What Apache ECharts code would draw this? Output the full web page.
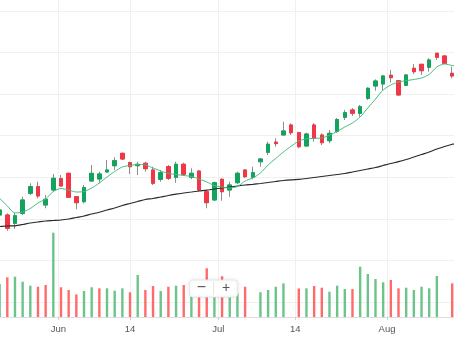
<!DOCTYPE html>
<html><head><meta charset="utf-8">
<script src="https://cdn.jsdelivr.net/npm/echarts@6/dist/echarts.min.js"></script>
<style>html,body{margin:0;padding:0;background:#fff}#c{width:454px;height:341px}</style>
</head><body><div id="c"></div>
<script>
// trading days (first and last only carry moving-average values)
const dates = [
 '2023-05-18','2023-05-19','2023-05-22','2023-05-23','2023-05-24','2023-05-25','2023-05-26','2023-05-30','2023-05-31',
 '2023-06-01','2023-06-02','2023-06-05','2023-06-06','2023-06-07','2023-06-08','2023-06-09','2023-06-12','2023-06-13','2023-06-14',
 '2023-06-15','2023-06-16','2023-06-20','2023-06-21','2023-06-22','2023-06-23','2023-06-26','2023-06-27','2023-06-28','2023-06-29','2023-06-30',
 '2023-07-03','2023-07-05','2023-07-06','2023-07-07','2023-07-10','2023-07-11','2023-07-12','2023-07-13','2023-07-14','2023-07-17',
 '2023-07-18','2023-07-19','2023-07-20','2023-07-21','2023-07-24','2023-07-25','2023-07-26','2023-07-27','2023-07-28','2023-07-31',
 '2023-08-01','2023-08-02','2023-08-03','2023-08-04','2023-08-07','2023-08-08','2023-08-09','2023-08-10','2023-08-11','2023-08-14','2023-08-15','2023-08-16'
];
const open  = [90.93,90.93,88.93,91.34,96.15,97.74,93.34,96.94,99.66,100.96,
 95.33,94.13,99.11,99.59,101.27,102.79,105.77,103.51,102.79,103.37,
 101.75,99.52,102.55,100.00,103.13,100.00,101.51,96.53,94.54,99.52,
 96.94,98.70,101.75,100.00,103.75,106.01,108.45,110.17,112.58,110.73,
 107.53,112.58,110.17,108.80,111.02,114.43,116.19,115.39,119.00,121.96,
 122.44,124.54,123.24,122.13,126.22,127.18,126.46,129.83,129.18,125.02];
const close = [92.13,87.73,90.76,94.54,97.74,95.50,94.71,99.76,97.91,95.19,
 93.89,97.50,100.95,100.80,101.75,103.99,104.40,102.55,103.13,102.07,
 98.56,101.11,99.76,103.13,100.72,100.96,96.94,93.89,98.70,96.53,
 98.15,100.96,100.14,101.11,104.40,107.95,108.10,111.14,110.73,107.36,
 110.41,109.38,108.32,110.58,113.90,115.54,115.39,116.98,121.41,123.16,
 124.37,123.96,119.80,124.61,125.40,125.64,128.22,128.87,127.42,124.37];
const low   = [90.21,87.15,87.56,90.93,95.74,94.95,92.54,96.53,97.74,95.10,
 92.30,93.74,98.94,98.56,101.20,101.75,104.16,100.79,100.55,101.35,
 98.15,98.94,99.35,98.70,100.31,99.52,96.53,92.54,94.37,94.37,
 95.33,98.39,99.76,99.52,102.55,105.36,107.36,110.17,110.17,106.98,
 107.36,108.56,107.77,108.18,110.66,113.78,114.74,114.58,118.59,120.83,
 121.00,122.76,119.63,121.96,124.85,124.61,125.40,128.22,127.25,123.81];
const high  = [92.85,91.34,91.41,95.33,98.56,98.94,95.74,100.79,100.55,101.11,
 95.50,98.15,102.96,101.35,104.16,104.81,105.92,103.75,103.75,103.75,
 102.55,101.75,102.96,103.75,103.51,102.16,101.75,96.94,98.94,99.76,
 98.94,101.35,101.92,102.55,104.57,108.56,109.38,113.37,112.99,110.97,
 110.73,112.99,110.58,111.38,114.26,116.19,116.67,117.39,121.65,123.57,
 124.61,125.81,123.40,124.85,127.25,127.25,128.63,129.97,129.30,126.61];
// volume (millions) and its colour direction (close vs previous close)
const volume = [4.16,5.01,5.09,4.45,3.95,3.82,4.04,10.64,3.75,3.41,
 2.86,3.28,3.75,3.62,3.62,3.32,3.62,3.12,5.30,3.41,
 3.91,3.28,3.82,3.95,4.04,3.79,3.91,6.15,3.79,5.14,
 3.53,2.99,3.82,null,3.12,3.41,3.82,4.25,null,3.60,
 3.62,3.91,3.70,3.19,3.95,3.53,3.53,6.35,5.43,4.79,
 4.38,4.67,3.62,3.70,3.41,3.82,3.62,5.17,null,4.25];
const volDir = [1,-1,1,1,1,-1,-1,1,-1,-1, -1,1,1,-1,1,1,1,-1,1,-1,
 -1,1,-1,1,-1,1,-1,-1,1,-1, 1,1,-1,1,1,1,1,1,-1,-1,
 1,-1,-1,1,1,1,-1,1,1,1, 1,-1,-1,1,1,1,1,1,-1,-1];
// moving averages (one value per date)
const maShort = [95.98,94.90,93.09,91.41,91.65,92.49,93.82,94.78,96.58,97.30,96.94,96.46,96.58,97.42,98.63,100.07,101.39,102.48,102.84,103.08,
 102.96,102.24,101.51,100.91,100.67,100.43,100.19,99.59,98.87,98.03,97.66,97.42,97.78,99.11,99.83,101.03,102.96,104.52,106.09,107.46,
 108.73,109.26,109.38,109.45,110.13,111.02,112.10,113.06,114.50,116.67,118.83,121.00,122.20,122.92,123.24,123.53,123.89,124.73,126.53,127.25,
 126.89,126.65];
const maLong = [88.04,88.16,88.28,88.33,88.64,89.01,89.25,89.49,89.61,89.73,89.97,90.33,90.69,91.17,91.58,92.13,92.61,93.21,93.70,94.18,
 94.66,94.90,95.26,95.62,95.93,96.22,96.46,96.70,96.90,97.18,97.42,97.66,97.91,98.15,98.31,98.51,98.75,98.99,99.23,99.40,
 99.52,99.71,99.95,100.19,100.43,100.67,100.91,101.27,101.63,101.99,102.36,102.84,103.32,103.75,104.28,104.88,105.48,106.08,106.81,107.41,
 107.94,108.42];
// time-axis ticks, in bar-index units (bar 0 = first candle)
const tickPos = [7.65, 17.0, 28.5, 38.55, 50.5];
const tickLabels = ['Jun', '14', 'Jul', '14', 'Aug'];

const UP = '#12a35d', DOWN = '#f23645', WICK = '#8e8e8e', VUP = '#6cc48b', VDOWN = '#ff6b6b';
const EMPTY = ['-','-','-','-'];
const wickData = [EMPTY].concat(open.map((o,i)=>[o, close[i], low[i], high[i]]), [EMPTY]);
const bodyData = [EMPTY].concat(open.map((o,i)=>[o, close[i], Math.min(o,close[i]), Math.max(o,close[i])]), [EMPTY]);
const volData = ['-'].concat(volume.map((v,i)=> v == null ? '-' : {value: v, itemStyle: {color: volDir[i] > 0 ? VUP : VDOWN}}), ['-']);

const L = -11.875, R = -9.7;
const chart = echarts.init(document.getElementById('c'), null, {renderer: 'canvas'});
chart.setOption({
  animation: false,
  grid: [
    {left: L, right: R, top: 11, bottom: 39, containLabel: false, outerBoundsMode: 'none'},
    {left: L, right: R, top: 0, bottom: 24, containLabel: false, outerBoundsMode: 'none'}
  ],
  xAxis: [
    {type: 'category', gridIndex: 0, data: dates, boundaryGap: true, show: false},
    {type: 'category', gridIndex: 1, data: dates, boundaryGap: true, show: false, position: 'top'},
    {type: 'value', gridIndex: 1, position: 'bottom', min: -1.5, max: dates.length - 1.5,
      axisLine: {show: true, lineStyle: {color: '#dedede', width: 1}},
      axisTick: {show: true, customValues: tickPos, length: 3, lineStyle: {color: '#cfcfcf'}},
      axisLabel: {show: true, customValues: tickPos, color: '#555', fontSize: 9.5, margin: 7,
        fontFamily: 'Liberation Sans, Arial, sans-serif',
        formatter: function (v) { const j = tickPos.findIndex(t => Math.abs(t - v) < 1e-6); return j >= 0 ? tickLabels[j] : ''; }},
      splitLine: {show: true, lineStyle: {color: '#f0f0f0', width: 1}}
    }
  ],
  yAxis: [
    {type: 'value', gridIndex: 0, min: 70, max: 140, interval: 10,
      axisLine: {show: false}, axisTick: {show: false}, axisLabel: {show: false},
      splitLine: {show: true, lineStyle: {color: '#f0f0f0', width: 1}}},
    {type: 'value', gridIndex: 1, min: 0, max: 40, show: false, splitLine: {show: false}}
  ],
  series: [
    {type: 'bar', xAxisIndex: 1, yAxisIndex: 1, data: volData, barWidth: 2.4, silent: true},
    {type: 'line', xAxisIndex: 0, yAxisIndex: 0, data: maLong, showSymbol: false, smooth: 0.25,
      lineStyle: {color: '#2a2a2a', width: 1.2}, silent: true},
    {type: 'line', xAxisIndex: 0, yAxisIndex: 0, data: maShort, showSymbol: false, smooth: 0.25,
      lineStyle: {color: '#45bd80', width: 1}, silent: true},
    {type: 'candlestick', xAxisIndex: 0, yAxisIndex: 0, data: wickData, barWidth: 4, silent: true,
      itemStyle: {color: 'rgba(0,0,0,0)', color0: 'rgba(0,0,0,0)', borderColor: WICK, borderColor0: WICK, borderWidth: 1}},
    {type: 'candlestick', xAxisIndex: 0, yAxisIndex: 0, data: bodyData, barWidth: 4, silent: true,
      itemStyle: {color: UP, color0: DOWN, borderColor: UP, borderColor0: DOWN, borderWidth: 1}}
  ],
  graphic: [
    {type: 'rect', x: 189.5, y: 280, z: 100, zlevel: 0, shape: {x: 0, y: 0, width: 48, height: 17, r: 3},
      style: {fill: '#ffffff', stroke: '#e8e8e8', lineWidth: 1, shadowBlur: 4, shadowColor: 'rgba(0,0,0,0.10)'}},
    {type: 'line', x: 189.5, y: 280, z: 101, shape: {x1: 24, y1: 2, x2: 24, y2: 15}, style: {stroke: '#e6e6e6', lineWidth: 1}},
    {type: 'text', x: 201.5, y: 288, z: 102, style: {text: '\u2212', fill: '#555', font: '16px "Liberation Sans", Arial, sans-serif', align: 'center', verticalAlign: 'middle'}},
    {type: 'text', x: 226, y: 288.5, z: 102, style: {text: '+', fill: '#555', font: '14px "Liberation Sans", Arial, sans-serif', align: 'center', verticalAlign: 'middle'}}
  ]
});
</script></body></html>
